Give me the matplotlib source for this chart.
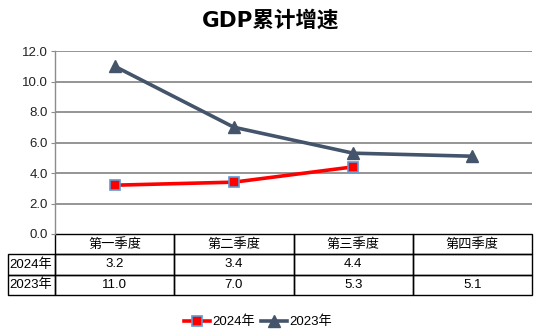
import matplotlib
matplotlib.use("Agg")
import matplotlib.pyplot as plt
from matplotlib.patches import Rectangle
from matplotlib.lines import Line2D

plt.rcParams['font.family'] = ['Liberation Sans', 'Noto Sans CJK SC', 'DejaVu Sans']

title = "GDP累计增速"
categories = ["第一季度", "第二季度", "第三季度", "第四季度"]
series_names = ["2024年", "2023年"]
values_2024 = [3.2, 3.4, 4.4, None]
values_2023 = [11.0, 7.0, 5.3, 5.1]
yticks = [0.0, 2.0, 4.0, 6.0, 8.0, 10.0, 12.0]

W, H = 542, 335
fig = plt.figure(figsize=(W / 100, H / 100), dpi=100)
ax = fig.add_axes([55 / W, (H - 234) / H, 477 / W, 183 / H])

x = list(range(len(categories)))
x24 = [i for i, v in zip(x, values_2024) if v is not None]
v24 = [v for v in values_2024 if v is not None]

c24 = "#FF0000"
c23 = "#44546A"
ax.plot(x, values_2023, color=c23, lw=2.6, marker="^", ms=8.5,
        mfc=c23, mec=c23, zorder=3)
ax.plot(x24, v24, color=c24, lw=2.6, marker="s", ms=7.5,
        mfc=c24, mec="#5B9BD5", mew=1.2, zorder=4)

ax.set_xlim(-0.5, len(categories) - 0.5)
ax.set_ylim(0, 12)
ax.set_yticks(yticks)
ax.set_yticklabels([f"{t:.1f}" for t in yticks], fontsize=9.5, color="#222222")
ax.set_xticks([])
for t in yticks[1:]:
    ax.axhline(t, color="#8C8C8C", lw=1.3, zorder=1)
for s in ["top", "right", "bottom"]:
    ax.spines[s].set_visible(False)
ax.spines["left"].set_color("#8C8C8C")
ax.spines["left"].set_linewidth(1.0)
ax.tick_params(axis="y", length=3, color="#8C8C8C", pad=2)

fig.text(0.5, 1 - 20 / H, title, ha="center", va="center", fontsize=15.5,
         fontweight="bold", family=["DejaVu Sans", "Noto Sans CJK SC"])

# table (axes coordinates)
rh = 20.3 / 183
lab_left = (8 - 55) / 477
n = len(categories)
cw = 1.0 / n
tkw = dict(transform=ax.transAxes, clip_on=False)
fs = 9.5
# header row
for i, c in enumerate(categories):
    ax.add_patch(Rectangle((i * cw, -rh), cw, rh, fill=False, ec="black", lw=1.0, **tkw))
    ax.text((i + 0.5) * cw, -rh / 2, c, ha="center", va="center", fontsize=fs, **tkw)
rows = [values_2024, values_2023]
for r, (name, vals) in enumerate(zip(series_names, rows)):
    y0 = -rh * (r + 2)
    ax.add_patch(Rectangle((lab_left, y0), -lab_left, rh, fill=False, ec="black", lw=1.0, **tkw))
    ax.text(lab_left + 0.003, y0 + rh / 2, name, ha="left", va="center", fontsize=fs, **tkw)
    for i, v in enumerate(vals):
        ax.add_patch(Rectangle((i * cw, y0), cw, rh, fill=False, ec="black", lw=1.0, **tkw))
        if v is not None:
            ax.text((i + 0.5) * cw, y0 + rh / 2, f"{v:.1f}", ha="center", va="center",
                    fontsize=fs, **tkw)

handles = [
    Line2D([], [], color=c24, lw=2.6, marker="s", ms=7.5, mfc=c24, mec="#5B9BD5", mew=1.2),
    Line2D([], [], color=c23, lw=2.6, marker="^", ms=8.5, mfc=c23, mec=c23),
]
fig.legend(handles, series_names, loc="center", bbox_to_anchor=(258 / W, 1 - 322 / H),
           ncol=2, frameon=False, fontsize=9.5, handlelength=2.0, handletextpad=0.2,
           columnspacing=0.4)

fig.savefig("out.png", dpi=100)
